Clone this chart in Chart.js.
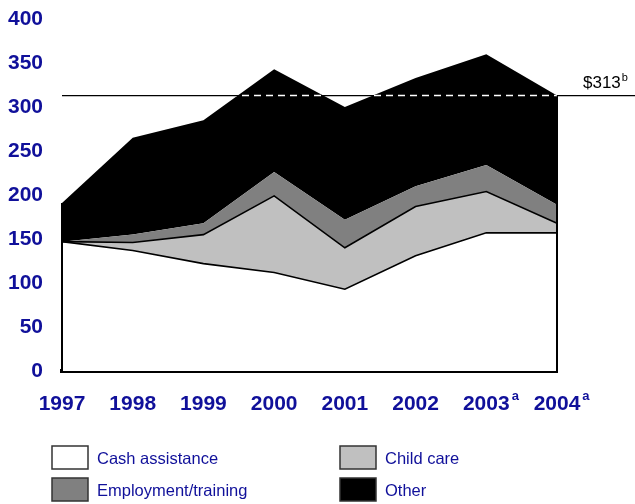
<!DOCTYPE html>
<html>
<head>
<meta charset="utf-8">
<script src="https://cdn.jsdelivr.net/npm/chart.js@4/dist/chart.umd.min.js"></script>
<style>
    html, body { margin: 0; padding: 0; background: #fff; }
    #wrap { width: 635px; height: 504px; }
</style>
</head>
<body>
<div id="wrap"><canvas id="spendChart" width="635" height="504"></canvas></div>
<script>
// Spending by category, stacked ($ millions)
const years = ['1997', '1998', '1999', '2000', '2001', '2002', '2003', '2004'];
const yearNotes = ['', '', '', '', '', '', 'a', 'a'];
const cashAssistance = [147, 137, 122, 112, 93, 131, 157, 157];
const childCare = [0, 9, 33, 87, 47, 56, 47, 11];
const employmentTraining = [0, 9, 13, 27, 32, 23, 30, 21];
const other = [44, 110, 117, 117, 128, 123, 126, 124];
const yTicks = [0, 50, 100, 150, 200, 250, 300, 350, 400];
const capValue = 313;
const capLabel = '$313';
const capNote = 'b';

const navy = '#10109a';
const fontFamily = "'Liberation Sans', Arial, Helvetica, sans-serif";

// Dashed cap line, area edges, footnote marks and the legend
const extrasPlugin = {
    id: 'extras',
    afterDatasetsDraw(chart) {
        const ctx = chart.ctx;
        const area = chart.chartArea;
        const yScale = chart.scales.y;
        const bottom = yScale.getPixelForValue(0);
        const topPts = chart.getDatasetMeta(3).data;
        const first = topPts[0];
        const last = topPts[topPts.length - 1];
        const capY = yScale.getPixelForValue(capValue);

        ctx.save();
        // left / right edges of the stack
        ctx.strokeStyle = '#000';
        ctx.lineWidth = 2;
        ctx.beginPath();
        ctx.moveTo(first.x, first.y);
        ctx.lineTo(first.x, bottom);
        ctx.moveTo(last.x, last.y);
        ctx.lineTo(last.x, bottom);
        ctx.stroke();

        // solid cap line across the whole width
        ctx.lineWidth = 1.2;
        ctx.beginPath();
        ctx.moveTo(area.left, capY);
        ctx.lineTo(chart.width, capY);
        ctx.stroke();

        // white dashes where it crosses the filled area
        ctx.save();
        ctx.beginPath();
        ctx.moveTo(first.x, bottom);
        topPts.forEach(p => ctx.lineTo(p.x, p.y));
        ctx.lineTo(last.x, bottom);
        ctx.closePath();
        ctx.clip();
        ctx.strokeStyle = '#fff';
        ctx.lineWidth = 1.6;
        ctx.setLineDash([7, 5]);
        ctx.beginPath();
        ctx.moveTo(area.left, capY);
        ctx.lineTo(area.right, capY);
        ctx.stroke();
        ctx.restore();

        // cap label
        ctx.fillStyle = '#000';
        ctx.font = '17px ' + fontFamily;
        ctx.textBaseline = 'alphabetic';
        ctx.textAlign = 'left';
        const lx = 583;
        ctx.fillText(capLabel, lx, capY - 8);
        const lw = ctx.measureText(capLabel).width;
        ctx.font = '11px ' + fontFamily;
        ctx.fillText(capNote, lx + lw + 1, capY - 15);
        ctx.restore();
    },
    afterDraw(chart) {
        const ctx = chart.ctx;
        const xScale = chart.scales.x;
        ctx.save();

        // superscript notes on year labels
        ctx.fillStyle = navy;
        ctx.textAlign = 'left';
        ctx.textBaseline = 'alphabetic';
        years.forEach((yr, i) => {
            if (!yearNotes[i]) return;
            ctx.font = 'bold 21px ' + fontFamily;
            const w = ctx.measureText(yr).width;
            const x = xScale.getPixelForValue(i) + w / 2 + 2;
            ctx.font = 'bold 13px ' + fontFamily;
            ctx.fillText(yearNotes[i], x, 400);
        });

        // legend, two columns
        const cols = [52, 340];
        const rows = [446, 478];
        chart.data.datasets.forEach((ds, i) => {
            const bx = cols[i % 2];
            const by = rows[Math.floor(i / 2)];
            ctx.fillStyle = ds.backgroundColor;
            ctx.fillRect(bx, by, 36, 23);
            ctx.strokeStyle = '#333';
            ctx.lineWidth = 1.5;
            ctx.strokeRect(bx, by, 36, 23);
            ctx.fillStyle = navy;
            ctx.font = '16.5px ' + fontFamily;
            ctx.textBaseline = 'middle';
            ctx.fillText(ds.label, bx + 45, by + 13);
        });
        ctx.restore();
    }
};

new Chart(document.getElementById('spendChart'), {
    type: 'line',
    data: {
        labels: years,
        datasets: [
            {
                label: 'Cash assistance',
                data: cashAssistance,
                backgroundColor: '#ffffff',
                borderColor: '#000',
                borderWidth: 1.6,
                fill: 'origin'
            },
            {
                label: 'Child care',
                data: childCare,
                backgroundColor: '#c0c0c0',
                borderColor: '#000',
                borderWidth: 1.6,
                fill: '-1'
            },
            {
                label: 'Employment/training',
                data: employmentTraining,
                backgroundColor: '#808080',
                borderColor: 'rgba(0,0,0,0)',
                borderWidth: 0,
                fill: '-1'
            },
            {
                label: 'Other',
                data: other,
                backgroundColor: '#000000',
                borderColor: 'rgba(0,0,0,0)',
                borderWidth: 0,
                fill: '-1'
            }
        ]
    },
    options: {
        responsive: false,
        animation: false,
        layout: { padding: { top: 19, right: 78, left: 0, bottom: 0 } },
        elements: {
            line: { tension: 0 },
            point: { radius: 0, hoverRadius: 0 }
        },
        plugins: {
            legend: { display: false },
            tooltip: { enabled: false },
            filler: { drawTime: 'beforeDatasetsDraw' }
        },
        scales: {
            x: {
                offset: false,
                grid: { display: false, drawTicks: false },
                border: { display: true, color: '#000', width: 4 },
                ticks: {
                    color: navy,
                    font: { family: fontFamily, size: 21, weight: 'bold' },
                    padding: 21,
                    maxRotation: 0,
                    autoSkip: false
                },
                afterFit(scale) { scale.height = 133; }
            },
            y: {
                stacked: true,
                min: 0,
                max: 400,
                afterBuildTicks(scale) { scale.ticks = yTicks.map(v => ({ value: v })); },
                grid: { display: false, drawTicks: false },
                border: { display: false },
                ticks: {
                    color: navy,
                    font: { family: fontFamily, size: 21, weight: 'bold' },
                    padding: 19
                },
                afterFit(scale) {
                    scale.width = 62;
                    // the label gap should not push the plot down
                    scale.paddingTop = 0;
                    scale.paddingBottom = 0;
                }
            }
        }
    },
    plugins: [extrasPlugin]
});
</script>
</body>
</html>
